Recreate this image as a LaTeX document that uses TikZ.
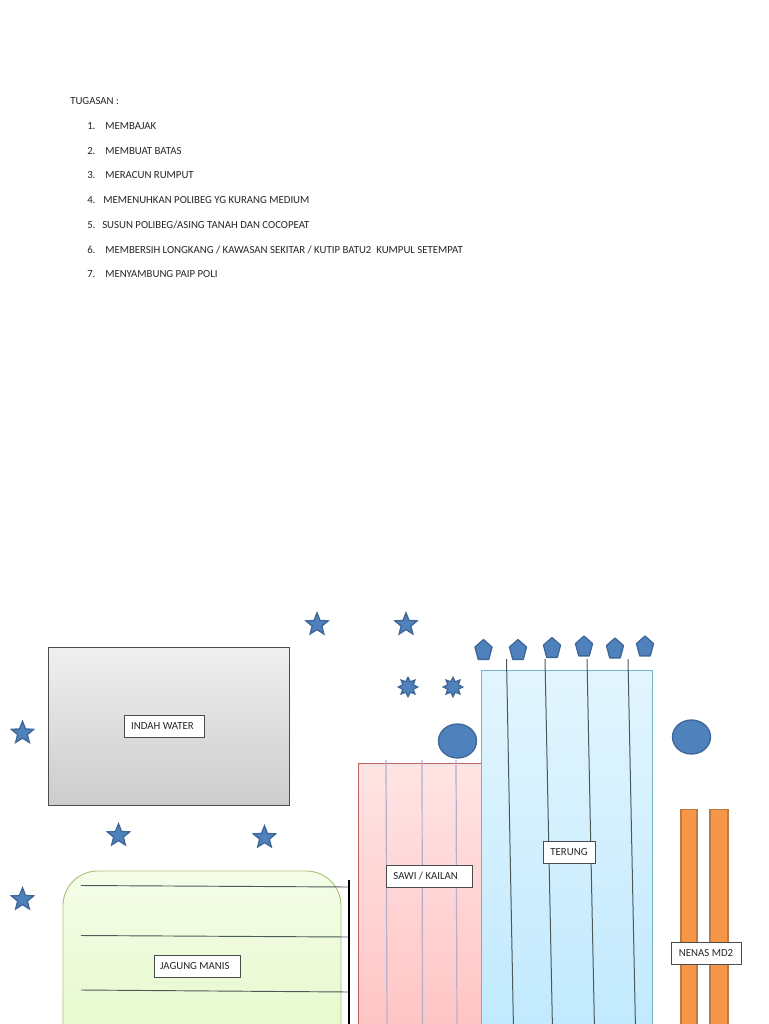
\documentclass[tikz,border=0pt]{standalone}
\usepackage{fontspec}
\setmainfont{Carlito}
\usetikzlibrary{shapes.geometric}
\definecolor{bluefill}{HTML}{4F81BD}
\definecolor{blueline}{HTML}{3F6797}
\definecolor{orangefill}{HTML}{F79646}
\definecolor{orangeedge}{HTML}{B97A45}
\definecolor{rowgray}{HTML}{4A5A5A}
\tikzset{
 tasktext/.style={anchor=base west,inner sep=0pt,font=\fontsize{8.1}{9}\selectfont,text=black!85},
 labelbox/.style={draw=black!70,fill=white,line width=.7pt,inner sep=0pt,font=\fontsize{8.1}{9}\selectfont,text=black!85},
 starshape/.style={star,star points=5,star point ratio=2.3,minimum size=17.5pt,inner sep=0pt,fill=bluefill,draw=blueline,line width=1pt},
 pentshape/.style={regular polygon,regular polygon sides=5,minimum size=16.4pt,inner sep=0pt,fill=bluefill,draw=blueline,line width=1pt,line join=round,transform shape},
 burstshape/.style={star,star points=8,star point ratio=1.7,minimum size=14.5pt,inner sep=0pt,fill=bluefill,draw=blueline,line width=1pt},
 blobshape/.style={ellipse,minimum width=28.5pt,minimum height=25.5pt,inner sep=0pt,fill=bluefill,draw=blueline,line width=1pt},
 pinkline/.style={draw={rgb,255:red,180;green,175;blue,205},line width=.9pt},
 rowline/.style={draw=rowgray,line width=.7pt},
 termline/.style={draw=rowgray,line width=.75pt},
 orangebar/.style={draw=orangeedge,line width=.9pt,fill=orangefill},
}
\newcommand{\pentat}[3]{\begin{scope}[shift={(#2,#3)},xscale=.82]\node[pentshape] (#1) at (0,0) {};\end{scope}}
\begin{document}
\begin{tikzpicture}[x=.75pt,y=-.75pt]
\useasboundingbox (0,0) rectangle (768,1024);
\clip (0,0) rectangle (768,1024);
\fill[white] (0,0) rectangle (768,1024);
% task list
\node[tasktext] (t0) at (70,104.3) {TUGASAN :};
\node[tasktext] (n1) at (87,129.3) {1.};
\node[tasktext] (t1) at (105,129.3) {MEMBAJAK};
\node[tasktext] (n2) at (87,154.3) {2.};
\node[tasktext] (t2) at (105,154.3) {MEMBUAT BATAS};
\node[tasktext] (n3) at (87,178.3) {3.};
\node[tasktext] (t3) at (105,178.3) {MERACUN RUMPUT};
\node[tasktext] (n4) at (87,203.3) {4.};
\node[tasktext] (t4) at (103,203.3) {MEMENUHKAN POLIBEG YG KURANG MEDIUM};
\node[tasktext] (n5) at (87,228) {5.};
\node[tasktext] (t5) at (102,228) {SUSUN POLIBEG/ASING TANAH DAN COCOPEAT};
\node[tasktext] (n6) at (87,253) {6.};
\node[tasktext] (t6) at (105,253) {MEMBERSIH LONGKANG / KAWASAN SEKITAR / KUTIP BATU2\ \ KUMPUL SETEMPAT};
\node[tasktext] (n7) at (87,277.3) {7.};
\node[tasktext] (t7) at (105,277.3) {MENYAMBUNG PAIP POLI};
% areas
\shade[top color=black!6,bottom color=black!20,draw=black!70,line width=.7pt] (48,647) rectangle (289,805);
\shade[top color={rgb,255:red,245;green,253;blue,232},bottom color={rgb,255:red,226;green,248;blue,196},draw={rgb,255:red,170;green,195;blue,120},line width=.7pt,rounded corners=26pt] (63,871) rectangle (341,1090);
\shade[top color={rgb,255:red,255;green,228;blue,228},bottom color={rgb,255:red,255;green,195;blue,195},draw={rgb,255:red,190;green,95;blue,95},line width=.7pt] (358,763) rectangle (481,1040);
\shade[top color={rgb,255:red,226;green,245;blue,254},bottom color={rgb,255:red,192;green,233;blue,254},draw={rgb,255:red,115;green,180;blue,200},line width=.7pt] (481,670) rectangle (652,1040);
\draw[orangebar] (681,809.5) rectangle (697,1040);
\draw[orangebar] (710,809.5) rectangle (728,1040);
% rows
\draw[rowline] (81,885.5) -- (349,887);
\draw[rowline] (81,935.5) -- (349,937);
\draw[rowline] (81,990) -- (349,992);
\draw[black,line width=1.3pt] (349,880) -- (349,1030);
\foreach \a/\b in {386/387,422/422.5,456/457}{\draw[pinkline] (\a,760) -- (\b,1030);}
\foreach \a/\b in {506.5/513.5,545/552.5,587/594.5,628/635.5}{\draw[termline] (\a,659) -- (\b,1030);}
% markers
\node[starshape] (s1) at (317,624.5) {};
\node[starshape] (s2) at (406,624.5) {};
\node[starshape] (s3) at (22.5,733) {};
\node[starshape] (s4) at (118.5,835.5) {};
\node[starshape] (s5) at (264.5,837.5) {};
\node[starshape] (s6) at (22.5,899.5) {};
\pentat{p1}{483.5}{650.5}
\pentat{p2}{518}{650.5}
\pentat{p3}{552}{648.5}
\pentat{p4}{584}{647}
\pentat{p5}{615}{649}
\pentat{p6}{645}{647}
\node[burstshape] (b1) at (408,687) {};
\node[burstshape] (b2) at (453,687) {};
\node[blobshape] (e1) at (457.5,741) {};
\node[blobshape] (e2) at (691.5,737) {};
% labels
\node[labelbox,minimum width=60.5pt,minimum height=16.5pt] (indah) at (164.5,726) {\hspace*{-3pt}INDAH WATER};
\node[labelbox,minimum width=64.5pt,minimum height=16.5pt] (jagung) at (197.5,966) {\hspace*{-4pt}JAGUNG MANIS};
\node[labelbox,minimum width=64.5pt,minimum height=16.5pt] (sawi) at (429,876) {\hspace*{-5pt}SAWI / KAILAN};
\node[labelbox,minimum width=39pt,minimum height=16pt] (terung) at (569,852.5) {TERUNG};
\node[labelbox,minimum width=52.5pt,minimum height=16.5pt] (nenas) at (706,953) {NENAS MD2};
\end{tikzpicture}
\end{document}
